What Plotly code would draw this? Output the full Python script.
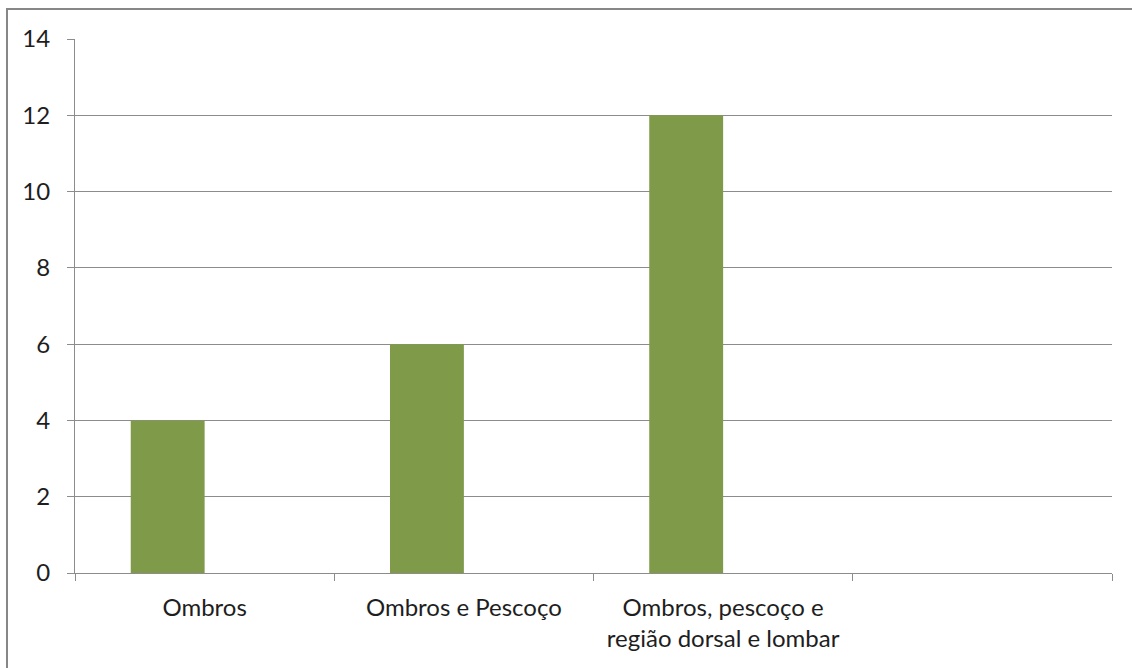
import plotly.graph_objects as go

categories = ["Ombros", "Ombros e Pescoço", "Ombros, pescoço e<br>região dorsal e lombar", " "]
values = [4, 6, 12, None]
y_ticks = [0, 2, 4, 6, 8, 10, 12, 14]

W, H = 1132, 668
L, R, T, B = 75, 20, 39, 95
pw, ph = W - L - R, H - T - B

bar_color = "#7F9B4A"
grid_color = "#8C8C8C"
font = dict(family="Lato, Carlito, Calibri, sans-serif", size=24, color="#1E1E1E")

fig = go.Figure()
fig.add_trace(go.Bar(x=categories, y=values, marker=dict(color=bar_color, line=dict(width=0)),
                     width=0.285, offset=-0.285))

fig.update_layout(
    width=W, height=H,
    margin=dict(l=L, r=R, t=T, b=B, pad=0),
    paper_bgcolor="white", plot_bgcolor="white",
    showlegend=False,
    font=font,
)
fig.update_xaxes(
    type="category", categoryorder="array", categoryarray=categories,
    showgrid=False, showline=True, linecolor=grid_color, linewidth=1,
    ticks="outside", tickson="boundaries", ticklen=7, tickcolor=grid_color,
    ticklabelstandoff=13,
)
fig.update_yaxes(
    range=[0, 14], tickvals=y_ticks, showgrid=True, gridcolor=grid_color, gridwidth=1,
    showline=True, linecolor=grid_color, linewidth=1, zeroline=False,
    ticks="outside", ticklen=7, tickcolor=grid_color, ticklabelstandoff=12,
)

# outer chart border (partly cut off at right and bottom as in the original)
def px_x(p):
    return (p - L) / pw

def px_y(p):
    return (H - B - p) / ph

fig.add_shape(type="rect", xref="paper", yref="paper",
              x0=px_x(7), x1=px_x(W + 10), y0=px_y(H + 10), y1=px_y(9),
              line=dict(color="#878787", width=2), fillcolor="rgba(0,0,0,0)", layer="above")

fig.write_html("out.html")
